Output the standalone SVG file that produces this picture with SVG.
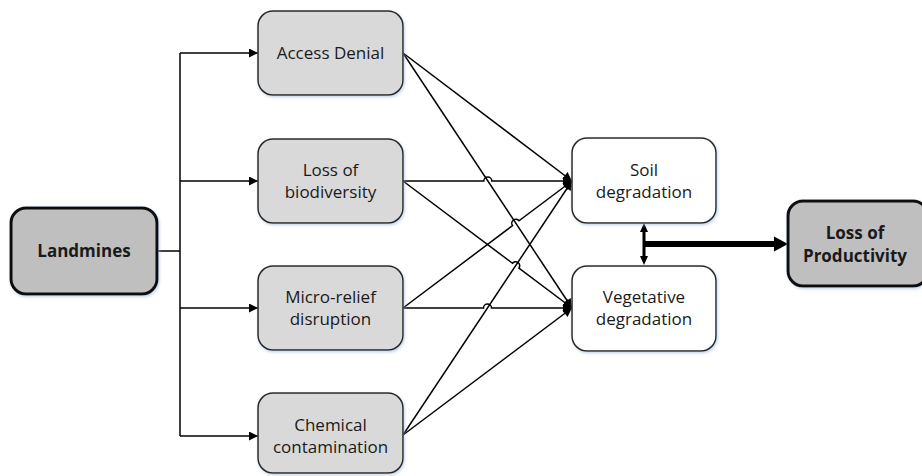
<svg xmlns="http://www.w3.org/2000/svg" width="922" height="476" viewBox="0 0 922 476">
<defs>
<filter id="sh" x="-10%" y="-10%" width="120%" height="120%">
<feDropShadow dx="1" dy="1.5" stdDeviation="1.5" flood-color="#9fb7d9" flood-opacity="0.6"/>
</filter>
<marker id="ah" viewBox="0 0 10 10" refX="10" refY="5" markerWidth="11" markerHeight="9" markerUnits="userSpaceOnUse" orient="auto">
<path d="M0,0 L10,5 L0,10 z" fill="#000"/>
</marker>
</defs>
<style>
.grey{fill:#d9d9d9;stroke:#262626;stroke-width:1.5}
.white{fill:#fff;stroke:#262626;stroke-width:1.5}
.main{fill:#bfbfbf;stroke:#0d0d0d;stroke-width:3}
.t{font-family:"Open Sans","DejaVu Sans",sans-serif;font-size:17px;fill:#1a1a1a;text-anchor:middle}
.b{font-weight:bold}
.c{fill:none;stroke:#000;stroke-width:1.5}
</style>
<g id="connectors">
<path class="c" d="M157,251 H180"/>
<path class="c" d="M180,53 V436"/>
<path class="c" d="M180,53 H258" marker-end="url(#ah)"/>
<path class="c" d="M180,181 H258" marker-end="url(#ah)"/>
<path class="c" d="M180,308 H258" marker-end="url(#ah)"/>
<path class="c" d="M180,436 H258" marker-end="url(#ah)"/>
<path class="c" d="M403,53 L572,181" marker-end="url(#ah)"/>
<path class="c" d="M403,53 L572,308" marker-end="url(#ah)"/>
<path class="c" d="M403,181 H483.8 A4,4 0 0 1 491.8,181 H572" marker-end="url(#ah)"/>
<path class="c" d="M403,181 L512.5,263.3 A4,4 0 0 1 518.9,268.1 L572,308" marker-end="url(#ah)"/>
<path class="c" d="M403,308 L512.6,225.6 A4,4 0 0 1 519,220.8 L572,181" marker-end="url(#ah)"/>
<path class="c" d="M403,308 H483.5 A4,4 0 0 1 491.5,308 H572" marker-end="url(#ah)"/>
<path class="c" d="M403,435 L572,181" marker-end="url(#ah)"/>
<path class="c" d="M403,435 L572,308" marker-end="url(#ah)"/>
<path d="M644,230 V258" stroke="#000" stroke-width="3" fill="none"/>
<path d="M644,223 L648,232 L640,232 z M644,265 L648,256 L640,256 z" fill="#000"/>
<path d="M643,244 H776" stroke="#000" stroke-width="6" fill="none"/>
<path d="M788,244 L774,236.5 L774,251.5 z" fill="#000"/>
</g>
<g id="landmines">
<rect class="main" x="11" y="208" width="146" height="86" rx="15" filter="url(#sh)"/>
<text class="t b" x="84" y="257">Landmines</text>
</g>
<g id="access-denial">
<rect class="grey" x="258" y="11" width="145" height="84" rx="15" filter="url(#sh)"/>
<text class="t" x="330.5" y="59">Access Denial</text>
</g>
<g id="loss-biodiversity">
<rect class="grey" x="258" y="139" width="145" height="84" rx="15" filter="url(#sh)"/>
<text class="t" x="330.5" y="176">Loss of</text>
<text class="t" x="330.5" y="198">biodiversity</text>
</g>
<g id="micro-relief">
<rect class="grey" x="258" y="266" width="145" height="84" rx="15" filter="url(#sh)"/>
<text class="t" x="330.5" y="303">Micro-relief</text>
<text class="t" x="330.5" y="325">disruption</text>
</g>
<g id="chemical">
<rect class="grey" x="258" y="393" width="145" height="80" rx="15" filter="url(#sh)"/>
<text class="t" x="330.5" y="431">Chemical</text>
<text class="t" x="330.5" y="453">contamination</text>
</g>
<g id="soil">
<rect class="white" x="572" y="138" width="144" height="85" rx="15" filter="url(#sh)"/>
<text class="t" x="644" y="176">Soil</text>
<text class="t" x="644" y="198">degradation</text>
</g>
<g id="vegetative">
<rect class="white" x="572" y="266" width="144" height="85" rx="15" filter="url(#sh)"/>
<text class="t" x="644" y="303">Vegetative</text>
<text class="t" x="644" y="325">degradation</text>
</g>
<g id="loss-productivity">
<rect class="main" x="788" y="201" width="140" height="85" rx="15" filter="url(#sh)"/>
<text class="t b" x="855" y="239">Loss of</text>
<text class="t b" x="855" y="262">Productivity</text>
</g>
</svg>
